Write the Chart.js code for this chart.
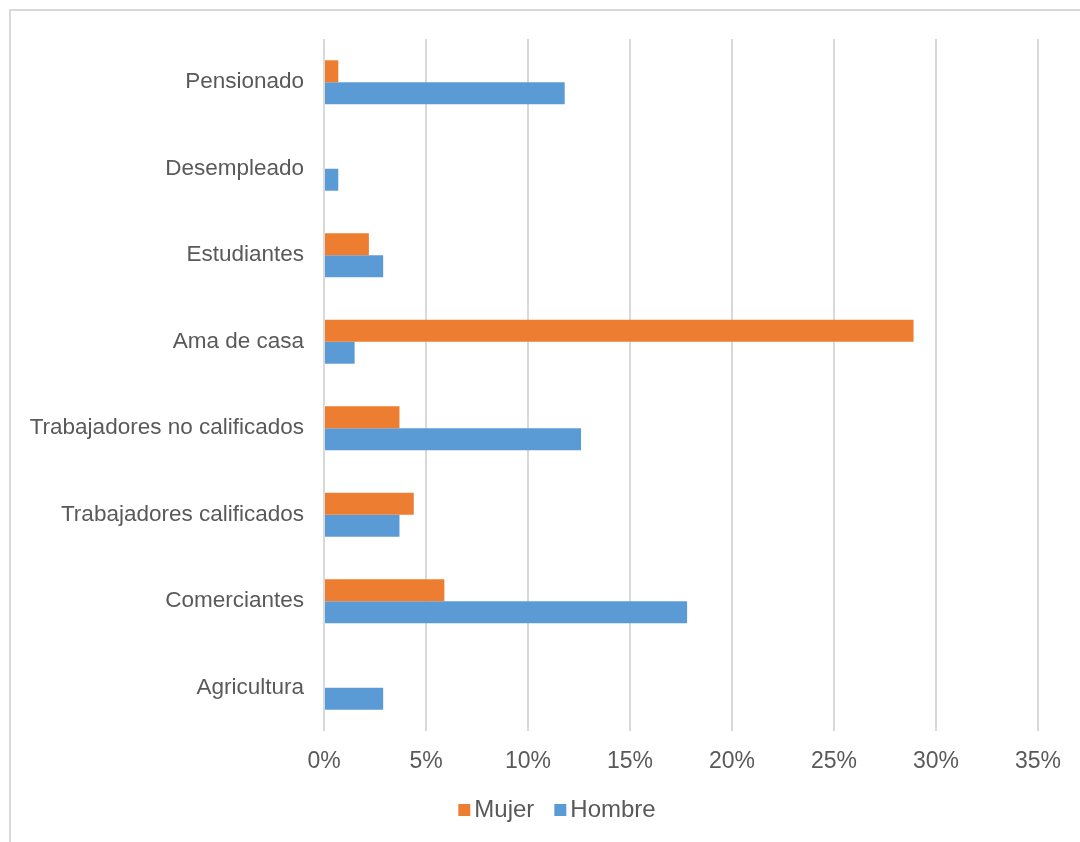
<!DOCTYPE html>
<html>
<head>
<meta charset="utf-8">
<script src="https://cdn.jsdelivr.net/npm/chart.js@4"></script>
<style>
  html, body { margin: 0; padding: 0; background: #fff; }
  #wrap { position: relative; width: 1080px; height: 842px; }
</style>
</head>
<body>
<div id="wrap"><canvas id="graficoOcupacion" width="1080" height="842"></canvas></div>
<script>
var categorias = ["Pensionado", "Desempleado", "Estudiantes", "Ama de casa",
    "Trabajadores no calificados", "Trabajadores calificados", "Comerciantes", "Agricultura"];
var mujer = [0.7, 0, 2.2, 28.9, 3.7, 4.4, 5.9, 0];
var hombre = [11.8, 0.7, 2.9, 1.5, 12.6, 3.7, 17.8, 2.9];
var ticksX = [0, 5, 10, 15, 20, 25, 30, 35];

var FUENTE = "'Liberation Sans', Arial, sans-serif";
Chart.defaults.font.family = FUENTE;
Chart.defaults.color = "#595959";

// marco gris del area del grafico
var marco = {
    id: "marco",
    beforeDraw: function (chart) {
        var c = chart.ctx;
        c.save();
        c.fillStyle = "#fff";
        c.fillRect(0, 0, chart.width, chart.height);
        c.strokeStyle = "#d9d9d9";
        c.lineWidth = 2;
        c.strokeRect(10, 10, chart.width + 20, chart.height + 20);
        c.restore();
    }
};

// leyenda dibujada a mano, cuadrito pegado al texto
var leyenda = {
    id: "leyenda",
    afterDraw: function (chart) {
        var c = chart.ctx;
        var sets = chart.data.datasets;
        c.save();
        c.font = "24px " + FUENTE;
        c.textBaseline = "middle";
        var caja = 12, hueco = 4, sep = 20;
        var total = 0;
        sets.forEach(function (ds, i) {
            total += caja + hueco + c.measureText(ds.label).width + (i > 0 ? sep : 0);
        });
        var x = 557 - total / 2;
        var y = 810;
        sets.forEach(function (ds) {
            c.fillStyle = ds.backgroundColor;
            c.fillRect(x, y - caja / 2, caja, caja);
            x += caja + hueco;
            c.fillStyle = "#595959";
            c.fillText(ds.label, x, y);
            x += c.measureText(ds.label).width + sep;
        });
        c.restore();
    }
};

var ctx = document.getElementById("graficoOcupacion");
var grafico = new Chart(ctx, {
    type: "bar",
    data: {
        labels: categorias,
        datasets: [{
            label: "Mujer",
            data: mujer,
            backgroundColor: "#ED7D31",
            borderWidth: 0
        }, {
            label: "Hombre",
            data: hombre,
            backgroundColor: "#5B9BD5",
            borderWidth: 0
        }]
    },
    options: {
        indexAxis: "y",
        responsive: false,
        animation: false,
        categoryPercentage: 0.508,
        barPercentage: 1,
        layout: {
            padding: { left: 0, right: 42, top: 39, bottom: 53 }
        },
        scales: {
            x: {
                min: 0,
                max: 35,
                afterBuildTicks: function (scale) {
                    scale.ticks = ticksX.map(function (v) { return { value: v }; });
                },
                afterFit: function (scale) { scale.height = 58; },
                grid: { color: "#d9d9d9", lineWidth: 2, drawTicks: false },
                border: { display: false },
                ticks: {
                    padding: 17,
                    font: { size: 23 },
                    callback: function (v) { return v + "%"; }
                }
            },
            y: {
                afterFit: function (scale) { scale.width = 324; },
                grid: { display: false, drawTicks: false },
                border: { display: false },
                ticks: { padding: 20, font: { size: 22.5 } }
            }
        },
        plugins: {
            legend: { display: false },
            tooltip: { enabled: false }
        }
    },
    plugins: [marco, leyenda]
});
</script>
</body>
</html>
